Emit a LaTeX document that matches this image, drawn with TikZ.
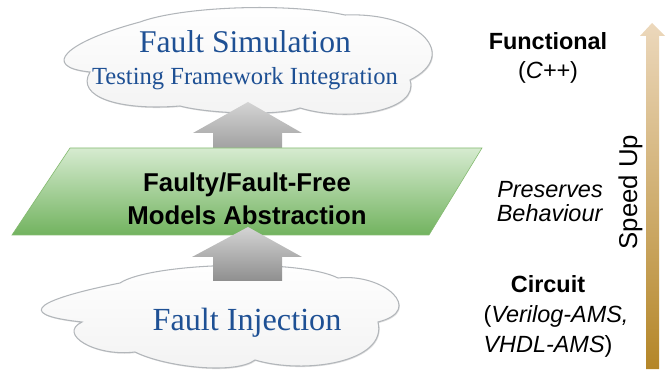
\documentclass[tikz,border=0pt]{standalone}
\usepackage{fontspec}
\setmainfont{Liberation Serif}
\setsansfont{Liberation Sans}
\usetikzlibrary{shadows}

\definecolor{titleblue}{RGB}{30,80,148}
\definecolor{cloudline}{RGB}{178,182,186}
\definecolor{greentop}{RGB}{214,235,208}
\definecolor{greenbot}{RGB}{114,179,95}
\definecolor{greenline}{RGB}{132,186,112}
\definecolor{speedtop}{RGB}{236,216,188}
\definecolor{speedbot}{RGB}{180,134,40}

\begin{document}
\begin{tikzpicture}[x=0.03cm, y=0.03cm,
	cloudshape/.style={draw=cloudline, line width=0.9pt, top color=white, bottom color=black!5,
		drop shadow={shadow xshift=0.7pt, shadow yshift=-0.9pt, opacity=0.25}},
	grayarrow/.style={top color=black!17, bottom color=black!44},
	abstrshape/.style={draw=greenline, line width=0.5pt, top color=greentop, bottom color=greenbot},
	cloudtitle/.style={anchor=base, text=titleblue, font=\fontsize{27}{30}\selectfont},
	cloudsub/.style={anchor=base, text=titleblue, font=\fontsize{21}{24}\selectfont},
	abstrtext/.style={anchor=base, font=\sffamily\bfseries\fontsize{22}{26}\selectfont},
	sidehead/.style={anchor=base, font=\sffamily\bfseries\fontsize{20}{24}\selectfont},
	sidetext/.style={anchor=base, font=\sffamily\fontsize{20}{24}\selectfont},
	]
	\useasboundingbox (0,0) rectangle (667,-372);

	%Simulation cloud
	\path[cloudshape] (140,-22)
		.. controls +(40,15) and +(-60,13) .. (345,-15)
		.. controls +(75,3) and +(50,25) .. (410,-80)
		.. controls +(10,-30) and +(50,-15) .. (300,-108)
		.. controls +(-20,-8) and +(30,-8) .. (180,-106)
		.. controls +(-60,-5) and +(-15,-25) .. (90,-72)
		.. controls +(-50,5) and +(-75,-20) .. (140,-22) -- cycle;
	\node[cloudtitle]	(simtitle)	at	(245,-53)	{Fault Simulation};
	\node[cloudsub]		(simsub)	at	(245,-85)	{Testing Framework Integration};

	%Upper block arrow
	\shade[grayarrow] (248,-102) -- (302,-133) -- (282,-133) -- (282,-165)
		-- (213,-165) -- (213,-133) -- (193,-133) -- cycle;

	%Abstraction layer
	\path[abstrshape] (12,-235) -- (429,-235) -- (482,-148) -- (70,-148) -- cycle;
	\node[abstrtext]	(abstrtop)	at	(247,-192)	{Faulty/Fault-Free};
	\node[abstrtext]	(abstrbot)	at	(247,-225)	{Models Abstraction};

	%Injection cloud
	\path[cloudshape] (120,-283)
		.. controls +(30,20) and +(-40,20) .. (338,-278)
		.. controls +(45,5) and +(48,12) .. (378,-322)
		.. controls +(10,-40) and +(50,-15) .. (255,-360)
		.. controls +(-20,-15) and +(30,-15) .. (135,-352)
		.. controls +(-40,-5) and +(-25,-12) .. (82,-322)
		.. controls +(-75,8) and +(-75,-15) .. (120,-283) -- cycle;
	\node[cloudtitle, font=\fontsize{27.5}{30}\selectfont]	(injtitle)	at	(247,-330)	{Fault Injection};

	%Lower block arrow
	\shade[grayarrow] (248,-227) -- (302,-257) -- (282,-257) -- (282,-281)
		-- (213,-281) -- (213,-257) -- (192,-257) -- cycle;

	%Levels
	\node[sidehead]		(functional)	at	(548,-50)	{Functional};
	\node[sidetext]		(cpp)		at	(548,-79)	{(\textit{C++})};
	\node[sidetext]		(preserves)	at	(550,-198)	{\textit{Preserves}};
	\node[sidetext]		(behaviour)	at	(550,-222)	{\textit{Behaviour}};
	\node[sidehead]		(circuit)	at	(548,-293)	{Circuit};
	\node[sidetext]		(verilog)	at	(556,-323)	{(\textit{Verilog-AMS,}};
	\node[sidetext]		(vhdl)		at	(548,-352)	{\textit{VHDL-AMS})};

	%Speed arrow
	\shade[top color=speedtop, bottom color=speedbot] (652,-23) -- (665,-36) -- (659,-36)
		-- (659,-369) -- (646,-369) -- (646,-36) -- (640,-36) -- cycle;
	\node[sidetext, rotate=90, font=\sffamily\fontsize{22}{26}\selectfont]	(speedup)	at	(637,-192)	{Speed Up};
\end{tikzpicture}
\end{document}
